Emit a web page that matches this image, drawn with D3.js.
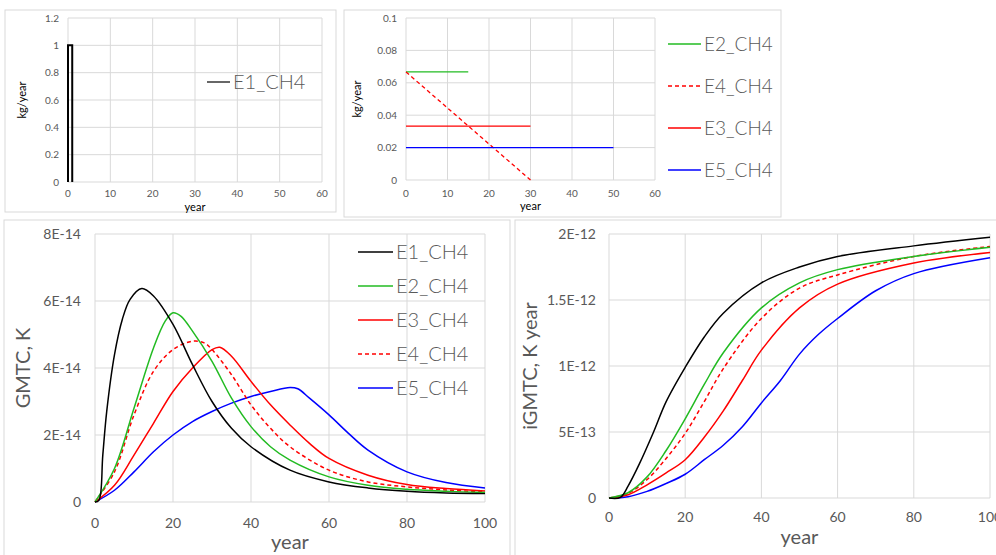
<!DOCTYPE html>
<html><head><meta charset="utf-8">
<script src="https://cdn.jsdelivr.net/npm/d3@7"></script>
<style>body{margin:0;background:#fff}svg{font-family:Lato,"Open Sans",sans-serif}</style>
</head><body><svg width="996" height="555"></svg>
<script>
const names = ["E1_CH4","E2_CH4","E3_CH4","E4_CH4","E5_CH4"];
const colors = {E1_CH4:"#000000",E2_CH4:"#22bb22",E3_CH4:"#ff0000",E4_CH4:"#ff0000",E5_CH4:"#0000ff"};
const dashed = {E4_CH4:true};
// emissions (kg/year)
const emisE1 = [[0,0],[0,1],[1,1],[1,0]];
const emisE2 = [[0,0.0667],[15,0.0667]];
const emisE4 = [[0,0.0667],[30,0]];
const emisE3 = [[0,0.0333],[30,0.0333]];
const emisE5 = [[0,0.02],[50,0.02]];
// GMTC (units 1E-14 K)
const gmtcE1 = [[0,0],[1,0.05],[2,1.4],[3,2.7],[5,4.4],[7,5.45],[9,6.05],[12,6.37],[15,6.15],[20,5.3],[25,4.1],[30,3.0],[35,2.2],[40,1.65],[50,0.95],[60,0.6],[70,0.42],[80,0.32],[90,0.27],[100,0.25]];
const gmtcE2 = [[0,0],[5,1.0],[10,2.8],[15,4.6],[18,5.4],[20,5.65],[22,5.55],[25,5.1],[30,4.2],[35,3.1],[40,2.25],[45,1.65],[50,1.25],[60,0.75],[70,0.5],[80,0.38],[90,0.32],[100,0.28]];
const gmtcE3 = [[0,0],[5,0.5],[10,1.4],[15,2.35],[20,3.3],[25,4.0],[30,4.55],[32,4.62],[35,4.35],[40,3.6],[45,2.9],[50,2.3],[55,1.75],[60,1.3],[70,0.8],[80,0.52],[90,0.4],[100,0.33]];
const gmtcE4 = [[0,0],[5,0.9],[10,2.6],[15,3.9],[20,4.55],[25,4.8],[28,4.75],[30,4.55],[35,3.8],[40,2.9],[45,2.2],[50,1.65],[60,0.95],[70,0.6],[80,0.45],[90,0.36],[100,0.3]];
const gmtcE5 = [[0,0],[5,0.35],[10,0.9],[15,1.5],[20,2.0],[25,2.4],[30,2.7],[35,2.95],[40,3.15],[45,3.3],[50,3.42],[52,3.38],[55,3.1],[60,2.6],[65,2.05],[70,1.55],[80,0.9],[90,0.58],[100,0.42]];
// iGMTC (units 1E-13 K year)
const igE1 = [[0,0],[3,0.05],[5,0.9],[8,2.6],[11.7,5.0],[15,7.3],[20,9.9],[25,12.2],[30,14.0],[40,16.3],[50,17.5],[60,18.3],[80,19.1],[100,19.75]];
const igE2 = [[0,0],[5,0.4],[10,1.6],[15,3.6],[20,6.0],[25,8.6],[30,11.0],[40,14.4],[50,16.3],[60,17.3],[80,18.3],[100,19.0]];
const igE3 = [[0,0],[5,0.25],[10,1.0],[15,1.9],[20,2.9],[25,4.6],[30,6.6],[35,8.9],[40,11.2],[50,14.4],[60,16.2],[80,17.8],[100,18.6]];
const igE4 = [[0,0],[5,0.35],[10,1.4],[15,3.0],[20,4.9],[25,7.3],[30,9.8],[40,13.6],[50,15.9],[60,16.9],[80,18.3],[100,19.05]];
const igE5 = [[0,0],[5,0.1],[10,0.5],[15,1.1],[20,1.8],[25,2.9],[30,4.0],[35,5.4],[40,7.2],[45,8.9],[50,10.9],[55,12.4],[60,13.6],[70,15.7],[80,17.0],[100,18.2]];

const svg = d3.select("svg");
const gridC="#d9d9d9", txtC="#595959";

function panel(o){
  const g = svg.append("g");
  g.append("rect").attr("x",o.box[0]).attr("y",o.box[1]).attr("width",o.box[2]).attr("height",o.box[3])
   .attr("fill","#fff").attr("stroke","#d9d9d9");
  const x = d3.scaleLinear().domain(o.xd).range([o.x0,o.x1]);
  const y = d3.scaleLinear().domain(o.yd).range([o.y0,o.y1]);
  const xt = d3.range(o.xd[0],o.xd[1]+1e-9,o.xs), yt = o.yt;
  g.selectAll(".vg").data(xt).join("line").attr("x1",d=>x(d)).attr("x2",d=>x(d)).attr("y1",o.y0).attr("y2",o.y1).attr("stroke",gridC);
  g.selectAll(".hg").data(yt).join("line").attr("y1",d=>y(d)).attr("y2",d=>y(d)).attr("x1",o.x0).attr("x2",o.x1).attr("stroke",gridC);
  g.selectAll(".xl").data(xt).join("text").attr("x",d=>x(d)).attr("y",o.y0+o.xlo).attr("text-anchor","middle").attr("font-size",o.fs).attr("fill",txtC).text(d=>d);
  g.selectAll(".yl").data(yt).join("text").attr("x",o.x0-o.ylo).attr("y",d=>y(d)).attr("dy","0.35em").attr("text-anchor","end").attr("font-size",o.fs).attr("fill",txtC).text(o.yf);
  g.append("text").attr("x",(o.x0+o.x1)/2).attr("y",o.y0+o.xto).attr("text-anchor","middle").attr("font-size",o.tfs).attr("fill",o.tc).text("year");
  g.append("text").attr("transform",`translate(${o.x0-o.yto},${(o.y0+o.y1)/2}) rotate(-90)`).attr("text-anchor","middle").attr("font-size",o.tfs).attr("fill",o.tc).text(o.ylab);
  const line = d3.line().x(d=>x(d[0])).y(d=>y(d[1])).curve(o.curve||d3.curveLinear);
  o.series.forEach(s=>{
    g.append("path").attr("d",line(s.data)).attr("fill","none").attr("stroke",colors[s.n]).attr("stroke-width",o.sw)
     .attr("stroke-dasharray",dashed[s.n]?"4,3":null);
  });
  o.legend.forEach((n,i)=>{
    const ly=o.lg[1]+i*o.lg[2];
    g.append("line").attr("x1",o.lg[0]).attr("x2",o.lg[0]+o.lg[3]).attr("y1",ly).attr("y2",ly).attr("stroke",colors[n]).attr("stroke-width",o.lsw||o.sw).attr("stroke-dasharray",dashed[n]?"4,3":null);
    g.append("text").attr("x",o.lg[0]+o.lg[3]+3).attr("y",ly).attr("dy","0.36em").attr("font-size",o.lfs).attr("font-weight",300).attr("fill",txtC).text(n);
  });
}
const smooth = d3.curveCatmullRom.alpha(0.5);
panel({box:[5,10,331,202],xd:[0,60],xs:10,yd:[0,1.2],yt:[0,0.2,0.4,0.6,0.8,1,1.2],x0:68,x1:322,y0:182,y1:18,
  fs:10,xlo:15,ylo:9,xto:29,tfs:11,tc:"#000",yto:42,ylab:"kg/year",yf:d=>d,sw:2,lsw:1.2,
  series:[{n:"E1_CH4",data:emisE1}],legend:["E1_CH4"],lg:[207,82,0,23],lfs:20});
panel({box:[344,10,437,207],xd:[0,60],xs:10,yd:[0,0.1],yt:[0,0.02,0.04,0.06,0.08,0.1],x0:406,x1:655,y0:180,y1:18,
  fs:10,xlo:17,ylo:9,xto:30,tfs:11,tc:"#000",yto:45,ylab:"kg/year",yf:d=>d,sw:1.3,
  series:[{n:"E2_CH4",data:emisE2},{n:"E4_CH4",data:emisE4},{n:"E3_CH4",data:emisE3},{n:"E5_CH4",data:emisE5}],
  legend:["E2_CH4","E4_CH4","E3_CH4","E5_CH4"],lg:[668,44,42,33],lfs:19});
const ef = d=> d===0?"0":(d+"E-14");
panel({box:[4,220,506,340],xd:[0,100],xs:20,yd:[0,8],yt:[0,2,4,6,8],x0:95,x1:485,y0:502,y1:234,
  fs:14,xlo:26,ylo:14,xto:47,tfs:20,tc:txtC,yto:65,ylab:"GMTC, K",yf:ef,sw:1.5,curve:smooth,
  series:[{n:"E5_CH4",data:gmtcE5},{n:"E3_CH4",data:gmtcE3},{n:"E4_CH4",data:gmtcE4},{n:"E2_CH4",data:gmtcE2},{n:"E1_CH4",data:gmtcE1}],
  legend:["E1_CH4","E2_CH4","E3_CH4","E4_CH4","E5_CH4"],lg:[358,252,34,35],lfs:20});
const ig = {0:"0",5:"5E-13",10:"1E-12",15:"1.5E-12",20:"2E-12"};
panel({box:[515,220,490,340],xd:[0,100],xs:20,yd:[0,20],yt:[0,5,10,15,20],x0:609,x1:990,y0:498,y1:234,
  fs:14,xlo:24,ylo:13,xto:46,tfs:20,tc:txtC,yto:72,ylab:"iGMTC, K year",yf:d=>ig[d],sw:1.5,curve:smooth,
  series:[{n:"E5_CH4",data:igE5},{n:"E3_CH4",data:igE3},{n:"E4_CH4",data:igE4},{n:"E2_CH4",data:igE2},{n:"E1_CH4",data:igE1}],
  legend:[],lg:[0,0,0,0],lfs:20});
</script></body></html>
